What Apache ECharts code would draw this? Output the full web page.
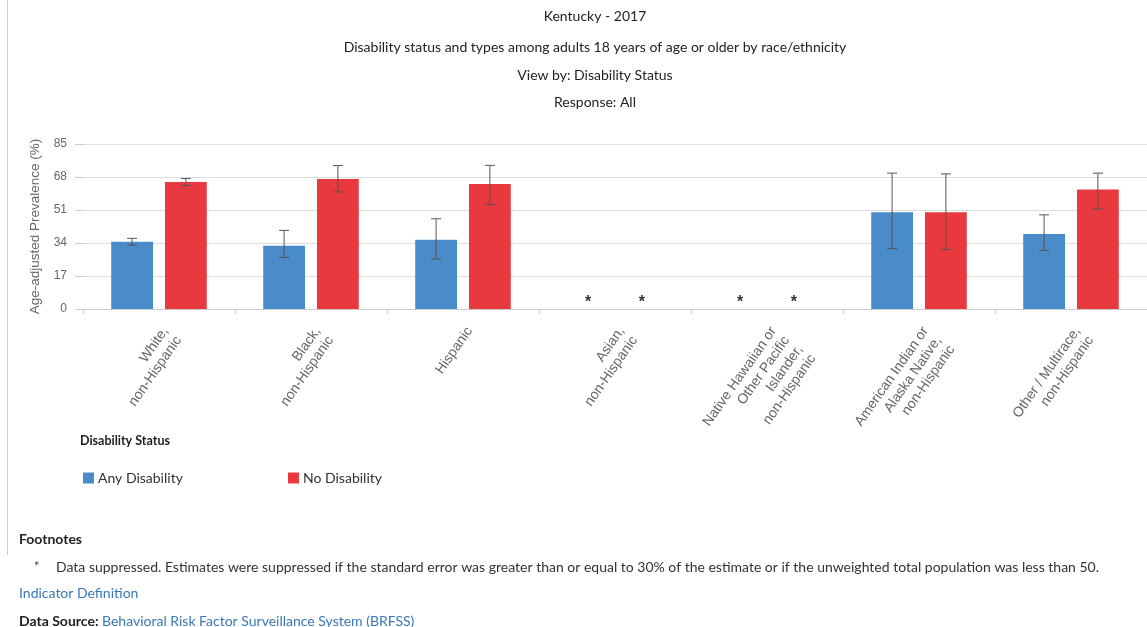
<!DOCTYPE html>
<html>
<head>
<meta charset="utf-8">
<script src="https://cdn.jsdelivr.net/npm/echarts@6/dist/echarts.min.js"></script>
<style>
html,body{margin:0;padding:0;background:#fff;}
#chart{width:1147px;height:627px;}
</style>
</head>
<body>
<div id="chart"></div>
<script>
var categories = [
  "White,\nnon-Hispanic",
  "Black,\nnon-Hispanic",
  "Hispanic",
  "Asian,\nnon-Hispanic",
  "Native Hawaiian or\nOther Pacific\nIslander,\nnon-Hispanic",
  "American Indian or\nAlaska Native,\nnon-Hispanic",
  "Other / Multirace,\nnon-Hispanic"
];
var seriesNames = ["Any Disability", "No Disability"];
var anyDisability = [34.6, 32.6, 35.7, null, null, 49.9, 38.6];
var anyLow        = [32.9, 26.6, 25.8, null, null, 31.1, 30.2];
var anyHigh       = [36.4, 40.5, 46.5, null, null, 70.0, 48.5];
var noDisability  = [65.4, 67.0, 64.4, null, null, 49.9, 61.5];
var noLow         = [63.6, 60.3, 53.8, null, null, 30.6, 51.5];
var noHigh        = [67.2, 73.9, 74.0, null, null, 69.6, 70.0];
var yTicks = { min: 0, max: 85, interval: 17 };

var colors = ["#4a8cca", "#e8393e"];
var barWidthFrac = 0.275;
var gapFrac = 0.286;

function barData(vals) {
  return vals.map(function (v) {
    if (v === null) {
      return { value: 0, label: { show: true, formatter: "*", position: "top", distance: -2,
        fontSize: 16, fontWeight: "bold", color: "#333", fontFamily: "Liberation Sans" } };
    }
    return v;
  });
}
function errData(lo, hi) {
  var out = [];
  for (var i = 0; i < lo.length; i++) {
    if (lo[i] !== null) out.push([i, lo[i], hi[i]]);
  }
  return out;
}
function makeErr(sign) {
  return function (params, api) {
    var idx = api.value(0);
    var p1 = api.coord([idx, api.value(1)]);
    var p2 = api.coord([idx, api.value(2)]);
    var band = api.size([1, 0])[0];
    var off = (barWidthFrac * (1 + gapFrac) / 2) * band * sign;
    var x = p1[0] + off;
    var cap = 5;
    var style = { stroke: "#555", lineWidth: 1 };
    return {
      type: "group",
      children: [
        { type: "line", shape: { x1: x, y1: p1[1], x2: x, y2: p2[1] }, style: style },
        { type: "line", shape: { x1: x - cap, y1: p1[1], x2: x + cap, y2: p1[1] }, style: style },
        { type: "line", shape: { x1: x - cap, y1: p2[1], x2: x + cap, y2: p2[1] }, style: style }
      ]
    };
  };
}

var chart = echarts.init(document.getElementById("chart"), null, { renderer: "canvas" });
var titleFont = "Lato, 'Open Sans', sans-serif";
var axisFont = "Liberation Sans, Arial, sans-serif";
function titleItem(txt, top) {
  return { text: txt, left: 590, top: top, textAlign: "center",
    textStyle: { fontSize: 14, fontWeight: "normal", color: "#222", fontFamily: titleFont } };
}
var option = {
  animation: false,
  backgroundColor: "#fff",
  color: colors,
  title: [
    titleItem("Kentucky - 2017", 4),
    titleItem("Disability status and types among adults 18 years of age or older by race/ethnicity", 35),
    titleItem("View by: Disability Status", 63),
    titleItem("Response: All", 90)
  ],
  legend: [
    { data: [seriesNames[0]], left: 78, top: 466, icon: "rect", itemWidth: 11, itemHeight: 11, itemGap: 4,
      textStyle: { fontSize: 14, color: "#333", fontFamily: titleFont, padding: [0, 0, 0, -1] } },
    { data: [seriesNames[1]], left: 283, top: 466, icon: "rect", itemWidth: 11, itemHeight: 11,
      textStyle: { fontSize: 14, color: "#333", fontFamily: titleFont, padding: [0, 0, 0, -1] } }
  ],
  grid: { left: 83, right: -7, top: 144, bottom: 318, containLabel: false },
  xAxis: {
    type: "category",
    data: categories,
    axisLine: { show: true, lineStyle: { color: "#ccc" } },
    axisTick: { show: true, length: 5, lineStyle: { color: "#ccc" } },
    axisLabel: { interval: 0, rotate: 55, fontSize: 14, color: "#666", margin: 15, lineHeight: 16,
      fontFamily: axisFont, align: "right", verticalAlign: "top" },
    splitLine: { show: false }
  },
  yAxis: {
    type: "value",
    min: yTicks.min, max: yTicks.max, interval: yTicks.interval,
    name: "Age-adjusted Prevalence (%)",
    nameLocation: "middle",
    nameGap: 40,
    nameTextStyle: { fontSize: 13.5, color: "#666", fontFamily: axisFont },
    axisLine: { show: false },
    axisTick: { show: true, length: 8, lineStyle: { color: "#ccc" } },
    axisLabel: { fontSize: 12, color: "#666", margin: 16, fontFamily: axisFont },
    splitLine: { lineStyle: { color: "#ddd" } }
  },
  series: [
    { name: seriesNames[0], type: "bar", data: barData(anyDisability), barWidth: (barWidthFrac * 100) + "%", barGap: (gapFrac * 100) + "%", itemStyle: { color: colors[0] } },
    { name: seriesNames[1], type: "bar", data: barData(noDisability), barWidth: (barWidthFrac * 100) + "%", barGap: (gapFrac * 100) + "%", itemStyle: { color: colors[1] } },
    { type: "custom", renderItem: makeErr(-1), data: errData(anyLow, anyHigh), z: 10, silent: true },
    { type: "custom", renderItem: makeErr(1), data: errData(noLow, noHigh), z: 10, silent: true }
  ],
  graphic: [
    { type: "line", shape: { x1: 7.5, y1: 0, x2: 7.5, y2: 555 }, style: { stroke: "#ccc", lineWidth: 1 } },
    { type: "text", left: 80, top: 434, style: { text: "Disability Status", font: "bold 12.5px Lato, 'Open Sans', sans-serif", fill: "#222" } },
    { type: "text", left: 19, top: 532, style: { text: "Footnotes", font: "bold 14px Lato, 'Open Sans', sans-serif", fill: "#222" } },
    { type: "text", left: 34, top: 560, style: { text: "*", font: "13px Lato, sans-serif", fill: "#444" } },
    { type: "text", left: 56, top: 560, style: { text: "Data suppressed. Estimates were suppressed if the standard error was greater than or equal to 30% of the estimate or if the unweighted total population was less than 50.", font: "14px Lato, 'Open Sans', sans-serif", fill: "#333" } },
    { type: "text", left: 19, top: 586, style: { text: "Indicator Definition", font: "14px Lato, 'Open Sans', sans-serif", fill: "#3a78b8" } },
    { type: "text", left: 19, top: 614, style: { text: "Data Source:", font: "bold 14px Lato, 'Open Sans', sans-serif", fill: "#222" } },
    { type: "text", left: 102, top: 614, style: { text: "Behavioral Risk Factor Surveillance System (BRFSS)", font: "14px Lato, 'Open Sans', sans-serif", fill: "#3a78b8" } }
  ]
};
chart.setOption(option);
</script>
</body>
</html>
